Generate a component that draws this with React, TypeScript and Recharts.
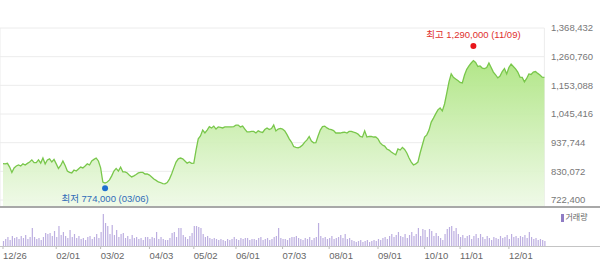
import { ComposedChart, Area, XAxis, YAxis, CartesianGrid, ReferenceDot, BarChart, Bar } from 'recharts'

// 일봉 기준 (12/26 ~ 12/26), 인덱스 = 거래일 순번
const TICK_DATES = ['12/26', '02/01', '03/02', '04/03', '05/02', '06/01', '07/03', '08/01', '09/01', '10/10', '11/01', '12/01']
const TICK_INDEX = [0, 24, 44, 66, 86, 105, 126, 147, 169, 190, 206, 228]

const PRICE_TICKS = [722400, 830072, 937744, 1045416, 1153088, 1260760, 1368432]

// 종가 (천원)
const CLOSE_K = [
  859, 858, 860, 846, 826, 843, 850, 854, 850, 858,
  854, 860, 865, 873, 863, 863, 873, 861, 880, 858,
  873, 877, 865, 875, 858, 841, 852, 869, 852, 831,
  826, 824, 835, 831, 839, 846, 843, 850, 858, 854,
  869, 875, 880, 869, 843, 790, 786, 790, 798, 813,
  831, 841, 831, 846, 828, 828, 824, 815, 809, 813,
  818, 824, 826, 826, 820, 820, 816, 809, 801, 796,
  790, 788, 784, 783, 788, 801, 820, 843, 865, 877,
  880, 877, 869, 861, 865, 860, 861, 910, 952, 963,
  985, 974, 985, 998, 993, 1000, 989, 997, 995, 993,
  997, 997, 997, 997, 998, 1004, 1004, 997, 1000, 989,
  978, 978, 980, 980, 974, 982, 978, 976, 987, 993,
  987, 991, 1004, 982, 989, 991, 989, 982, 968, 952,
  940, 923, 920, 918, 922, 929, 940, 948, 961, 944,
  937, 938, 963, 985, 998, 1000, 993, 989, 987, 983,
  974, 974, 974, 976, 977, 974, 980, 980, 977, 975,
  970, 961, 959, 982, 959, 961, 961, 959, 959, 952,
  937, 929, 925, 914, 910, 903, 897, 892, 914, 910,
  920, 912, 899, 880, 865, 854, 858, 865, 899, 929,
  959, 967, 985, 1015, 1030, 1046, 1061, 1068, 1057, 1083,
  1124, 1166, 1196, 1183, 1177, 1171, 1164, 1162, 1192, 1213,
  1226, 1237, 1246, 1239, 1224, 1226, 1218, 1216, 1220, 1237,
  1220, 1203, 1192, 1181, 1188, 1205, 1216, 1196, 1220, 1233,
  1224, 1215, 1203, 1184, 1183, 1166, 1179, 1196, 1194, 1203,
  1205, 1198, 1192, 1184, 1183
]

// 거래량 (만주)
const VOLUME = [
  5, 7, 9, 6, 10, 8, 9, 7, 10, 8,
  11, 7, 9, 18, 9, 7, 8, 6, 9, 13,
  12, 13, 10, 15, 9, 20, 11, 14, 10, 8,
  16, 9, 12, 8, 10, 7, 8, 6, 9, 10,
  7, 9, 12, 8, 14, 32, 23, 20, 12, 21,
  11, 16, 9, 12, 13, 8, 10, 7, 11, 8,
  9, 7, 8, 6, 9, 9, 7, 9, 8, 14,
  7, 9, 7, 6, 6, 8, 13, 14, 9, 18,
  18, 11, 9, 7, 10, 13, 20, 20, 19, 18,
  12, 9, 10, 8, 7, 8, 7, 6, 7, 6,
  5, 7, 6, 7, 9, 7, 6, 8, 7, 8,
  8, 6, 7, 7, 6, 8, 9, 6, 7, 8,
  6, 7, 9, 10, 18, 8, 7, 7, 6, 8,
  9, 9, 10, 8, 7, 6, 8, 7, 9, 6,
  8, 9, 23, 10, 8, 9, 7, 8, 10, 7,
  8, 9, 11, 8, 12, 7, 8, 6, 5, 4,
  5, 6, 4, 5, 6, 4, 5, 6, 5, 7,
  6, 8, 9, 7, 10, 12, 9, 11, 14, 10,
  9, 12, 8, 11, 14, 10, 12, 18, 10, 17,
  16, 9, 17, 15, 10, 13, 10, 8, 6, 12,
  17, 19, 20, 15, 18, 12, 9, 11, 8, 10,
  11, 7, 10, 12, 8, 12, 9, 7, 10, 8,
  6, 9, 8, 7, 10, 8, 9, 11, 7, 12,
  9, 10, 8, 10, 9, 11, 8, 14, 9, 7,
  8, 6, 7, 6, 5
]

const HIGH = { index: 212, price: 1290000, label: '최고 1,290,000 (11/09)' }
const LOW = { index: 46, price: 774000, label: '최저 774,000 (03/06)' }

const data = CLOSE_K.map((c, i) => ({ i, close: c * 1000, volume: VOLUME[i] }))

const W = 600
const AXIS_W = 55.6
const X_DOMAIN: [number, number] = [-1.35, 244]
// 가격축 아래 여백(722,400 아래로 7px)
const Y_DOMAIN: [number, number] = [722400 - (107672 * 7) / 28.67, 1368432]

const FONT = '"Liberation Sans", Arial, "Noto Sans CJK KR", sans-serif'

function DateTick(props: any) {
  const { x, y, payload } = props
  const idx = TICK_INDEX.indexOf(payload.value)
  return (
    <text x={x} y={y + 8} textAnchor="start" fontSize={9.5} fill="#666" fontFamily={FONT}>
      {TICK_DATES[idx]}
    </text>
  )
}

export default function App() {
  return (
    <div style={{ position: 'absolute', left: 0, top: 0, width: W, height: 271, background: '#fff', fontFamily: FONT }}>
      <ComposedChart width={W} height={208} data={data} margin={{ top: 28, right: 0, bottom: 1, left: 0 }}>
        <defs>
          <linearGradient id="priceFill" x1="0" y1="0" x2="0" y2="1">
            <stop offset="0%" stopColor="#aee582" stopOpacity={0.95} />
            <stop offset="100%" stopColor="#eef9e6" stopOpacity={0.9} />
          </linearGradient>
        </defs>
        <CartesianGrid stroke="#ececec" />
        <XAxis dataKey="i" type="number" domain={X_DOMAIN} ticks={TICK_INDEX} interval={0} tick={false} axisLine={false} tickLine={false} height={0} />
        <YAxis
          orientation="right"
          type="number"
          domain={Y_DOMAIN}
          allowDataOverflow
          ticks={PRICE_TICKS}
          interval={0}
          width={AXIS_W}
          axisLine={false}
          tickLine={false}
          tickSize={6}
          tickMargin={0.5}
          tick={{ fontSize: 9.5, fill: '#777', fontFamily: FONT }}
          tickFormatter={(v: number) => v.toLocaleString('en-US')}
        />
        <Area
          type="linear"
          dataKey="close"
          stroke="#79c74b"
          strokeWidth={1.3}
          fill="url(#priceFill)"
          fillOpacity={1}
          dot={false}
          activeDot={false}
          isAnimationActive={false}
        />
        <ReferenceDot
          x={HIGH.index}
          y={HIGH.price}
          r={3}
          fill="#e8161b"
          stroke="none"
          shape={(p: any) => <circle cx={p.cx} cy={p.cy - 3} r={3} fill="#e8161b" />}
          label={{ value: HIGH.label, position: 'top', offset: 8, fill: '#e0302d', fontSize: 9.5, fontFamily: FONT }}
        />
        <ReferenceDot
          x={LOW.index}
          y={LOW.price}
          r={3}
          fill="#1f6fd0"
          stroke="none"
          shape={(p: any) => <circle cx={p.cx} cy={p.cy + 2} r={3} fill="#1f6fd0" />}
          label={{ value: LOW.label, position: 'bottom', offset: 6, fill: '#2f6cb8', fontSize: 9.5, fontFamily: FONT }}
        />
      </ComposedChart>

      <div style={{ position: 'absolute', left: 0, top: 206, width: W, height: 2, background: '#a8a8a8' }} />

      <div style={{ position: 'absolute', top: 207, left: 0 }}>
        <BarChart width={W} height={64} data={data} margin={{ top: 3, right: AXIS_W, bottom: 0, left: 0 }}>
          <XAxis
            dataKey="i"
            type="number"
            domain={X_DOMAIN}
            ticks={TICK_INDEX}
            interval={0}
            height={25}
            axisLine={false}
            tickLine={{ stroke: '#bbb' }}
            tickSize={3}
            tick={<DateTick />}
          />
          <YAxis hide domain={[0, 36]} />
          <Bar dataKey="volume" fill="#bcaee0" barSize={1.2} isAnimationActive={false} />
        </BarChart>
      </div>

      <div style={{ position: 'absolute', left: 0, top: 245.5, width: W, height: 1, background: '#c4c4c4' }} />

      <div style={{ position: 'absolute', left: 561, top: 213, display: 'flex', alignItems: 'center', height: 10 }}>
        <span style={{ display: 'inline-block', width: 2.5, height: 8, background: '#8f7cc4', marginRight: 2 }} />
        <span style={{ fontSize: 8, color: '#666', fontFamily: FONT, lineHeight: '10px' }}>거래량</span>
      </div>
    </div>
  )
}
